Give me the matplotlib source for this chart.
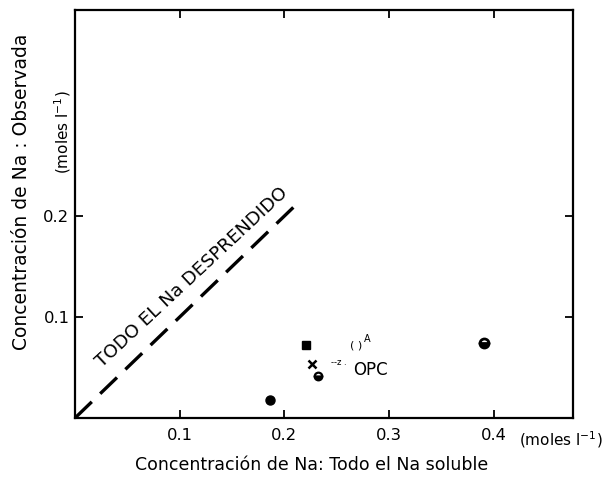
import matplotlib
matplotlib.use("Agg")
import matplotlib.pyplot as plt
from matplotlib.transforms import blended_transform_factory

# Data
line_x = [0.0, 0.215]
line_y = [0.0, 0.215]
pt_filled_circle = (0.186, 0.0175)
pt_square = (0.221, 0.072)
pt_cross = (0.226, 0.053)
pt_half_circle = (0.232, 0.042)
pt_right_circle = (0.391, 0.074)
xticks = [0.1, 0.2, 0.3, 0.4]
xticklabels = ["0.1", "0.2", "0.3", "0.4"]
yticks = [0.1, 0.2]
yticklabels = ["0.1", "0.2"]

plt.rcParams['font.family'] = ['DejaVu Sans']

fig = plt.figure(figsize=(6.02, 4.78), dpi=100)
ax = fig.add_axes([75/602, 60/478, 498/602, 408/478])
ax.set_xlim(0, 0.4757)
ax.set_ylim(0, 0.404)

for s in ax.spines.values():
    s.set_linewidth(1.6)
    s.set_color('black')

ax.plot(line_x, line_y, color='black', lw=2.4, dashes=(7, 3.5), solid_capstyle='butt')

ax.plot(*pt_filled_circle, 'o', color='black', ms=6.5)
ax.plot(*pt_square, 's', color='black', ms=6)
ax.plot(*pt_cross, 'x', color='black', ms=5.5, mew=1.8)
ax.plot(*pt_half_circle, 'o', ms=5.5, mfc='black', mec='black', mew=1.6,
        fillstyle='bottom', markerfacecoloralt='white')
ax.plot(*pt_right_circle, 'o', ms=6.5, mfc='black', mec='black', mew=2.0,
        fillstyle='bottom', markerfacecoloralt='white')

ax.text(0.112, 0.139, "TODO EL Na DESPRENDIDO", rotation=43, fontsize=13.3,
        ha='center', va='center')
ax.text(0.263, 0.072, "( )", fontsize=8, ha='left', va='center')
ax.text(0.276, 0.078, "A", fontsize=7, ha='left', va='center')
ax.text(0.245, 0.055, "--z .", fontsize=6, ha='left', va='center')
ax.text(0.266, 0.0475, "OPC", fontsize=12, ha='left', va='center')

ax.set_xticks(xticks)
ax.set_xticklabels(xticklabels, fontsize=11.8)
ax.set_yticks(yticks)
ax.set_yticklabels(yticklabels, fontsize=11.8)
ax.tick_params(direction='in', length=6, width=1.3, top=True, right=True, pad=7)
ax.tick_params(axis='y', pad=4)

trans = blended_transform_factory(ax.transData, ax.transAxes)
ax.annotate("(moles l$^{-1}$)", xy=(0.424, 0), xycoords=trans,
            xytext=(0, -8), textcoords='offset points', ha='left', va='top',
            fontsize=11)
trans2 = blended_transform_factory(ax.transAxes, ax.transData)
ax.text(-0.024, 0.283, "(moles l$^{-1}$)", transform=trans2, rotation=90,
        ha='center', va='center', fontsize=11)

fig.text(22/602, 1 - 192/478, "Concentración de Na : Observada", rotation=90,
         ha='center', va='center', fontsize=13.5)
fig.text(312/602, 1 - 465/478, "Concentración de Na: Todo el Na soluble",
         ha='center', va='center', fontsize=12.5)

fig.savefig("out.png", dpi=100)
